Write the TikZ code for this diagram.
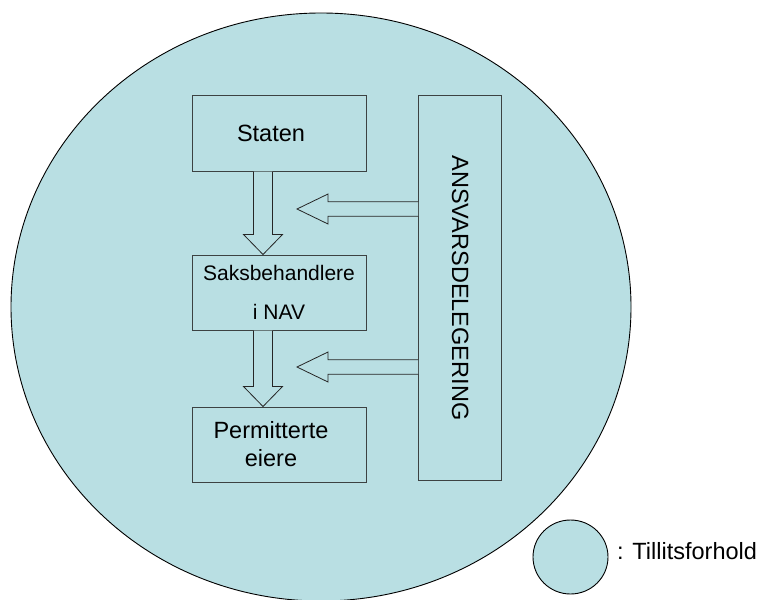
\documentclass[tikz,border=0pt]{standalone}
\usepackage{fontspec}
\setmainfont{Liberation Sans}
\usetikzlibrary{positioning,calc,shapes.geometric}

\definecolor{trustblue}{RGB}{185,223,227}
\definecolor{boxline}{RGB}{60,66,66}

\tikzset{
    trust/.style={draw=black, line width=0.9pt, fill=trustblue, ellipse, inner sep=0pt},
    unit/.style={draw=boxline, line width=1pt, fill=trustblue, minimum width=174pt,
        minimum height=75pt, inner sep=0pt, align=center},
    fatarrow/.style={draw=black!85, line width=0.8pt, fill=trustblue, line join=miter},
}

% hollow block arrows, start and tip given as coordinates
\newcommand{\downblock}[2]{%
    \draw[fatarrow] ($(#1)+(-9.5,0)$) -- ($(#2)+(-9.5,-20)$) -- ($(#2)+(-19.5,-20)$) -- (#2)
        -- ($(#2)+(19.5,-20)$) -- ($(#2)+(9.5,-20)$) -- ($(#1)+(9.5,0)$);}
\newcommand{\leftblock}[2]{%
    \draw[fatarrow] ($(#1)+(0,-7.2)$) -- ($(#2)+(31,-7.2)$) -- ($(#2)+(31,-15)$) -- (#2)
        -- ($(#2)+(31,15)$) -- ($(#2)+(31,7.2)$) -- ($(#1)+(0,7.2)$);}
\newcommand{\padr}{\hspace*{16pt}}

\begin{document}
\begin{tikzpicture}[x=1pt, y=-1pt]
    \useasboundingbox (0,0) rectangle (759,599);
    \node[trust, minimum width=620pt, minimum height=588pt] (trust) at (321,307) {};

    \node[unit, font=\fontsize{23.5}{28}\selectfont] (staten) at (279,133.5) {Staten\padr};
    \node[unit, below=83pt of staten, font=\fontsize{21}{39}\selectfont] (saks) {Saksbehandlere\\i NAV};
    \node[unit, below=76pt of saks, font=\fontsize{23.5}{28}\selectfont] (perm) {Permitterte\padr\\eiere\padr};
    \node[unit, rotate=-90, minimum width=384pt, minimum height=83.3pt,
        font=\fontsize{23.5}{28}\selectfont] (deleg) at (460.3,288) {ANSVARSDELEGERING};

    \coordinate (d1s) at ([xshift=-16pt]staten.south);
    \coordinate (d1e) at ([xshift=-16pt]saks.north);
    \coordinate (d2s) at ([xshift=-16pt]saks.south);
    \coordinate (d2e) at ([xshift=-16pt]perm.north);
    \coordinate (l1s) at ([yshift=79pt]deleg.south);
    \coordinate (l2s) at ([yshift=-79pt]deleg.south);
    \coordinate (l1e) at (297,209);
    \coordinate (l2e) at (297,367);

    \downblock{d1s}{d1e}
    \downblock{d2s}{d2e}
    \leftblock{l1s}{l1e}
    \leftblock{l2s}{l2e}

    \node[trust, minimum width=75pt, minimum height=74pt] (key) at (570.5,557) {};
    \node[anchor=base west, inner sep=0pt, font=\fontsize{23.5}{28}\selectfont] (keytext) at (617,559) {: Tillitsforhold};
\end{tikzpicture}
\end{document}
